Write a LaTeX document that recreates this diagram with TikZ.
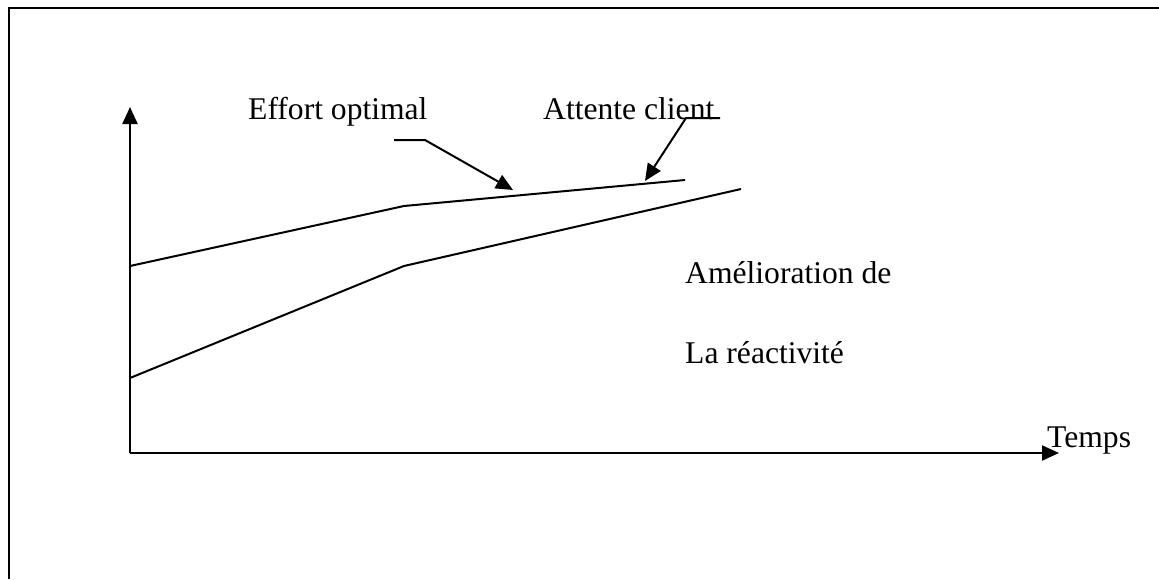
\documentclass[tikz,border=0pt]{standalone}
\usepackage{fontspec}
\setmainfont{Liberation Serif}
\usetikzlibrary{arrows.meta}
\begin{document}
\begin{tikzpicture}[x=1pt,y=-1pt,
  frame/.style={line width=2.6pt},
  axis/.style={line width=2.2pt,-{Triangle[length=17pt,width=15pt]}},
  curve/.style={line width=2pt},
  leader/.style={line width=2pt,-{Triangle[length=17pt,width=15pt]}},
  lbl/.style={inner sep=0pt,anchor=base west,font=\fontsize{31.6}{38}\selectfont}]
\useasboundingbox (0,0) rectangle (1159,579);
% page frame (left and top edges)
\draw[frame] (9,579) -- (9,8) -- (1159,8);
% axes
\coordinate (O) at (130,453);
\coordinate (ytop) at (130,107);
\coordinate (xend) at (1059,453);
\draw[axis] (O) -- (ytop);
\draw[axis] (O) -- (xend);
% effort and expectation curves
\coordinate (u0) at (130,266);
\coordinate (u1) at (404,206);
\coordinate (u2) at (685,180);
\coordinate (l0) at (130,378);
\coordinate (l1) at (404,266);
\coordinate (l2) at (741,189);
\draw[curve] (u0) -- (u1) -- (u2);
\draw[curve] (l0) -- (l1) -- (l2);
% labels
\node[lbl] (effort) at (248,119) {Effort optimal};
\node[lbl] (attente) at (543,119) {Attente client};
\node[lbl] (amel) at (685,283) {Amélioration de};
\node[lbl] (reac) at (685,363) {La réactivité};
\node[lbl] (temps) at (1047,447) {Temps};
% leader lines
\coordinate (e0) at (394,140);
\coordinate (e1) at (425,140);
\coordinate (etip) at (513,190);
\coordinate (a0) at (720,118);
\coordinate (a1) at (686,118);
\coordinate (atip) at (645,181);
\draw[leader] (e0) -- (e1) -- (etip);
\draw[leader] (a0) -- (a1) -- (atip);
\end{tikzpicture}
\end{document}
